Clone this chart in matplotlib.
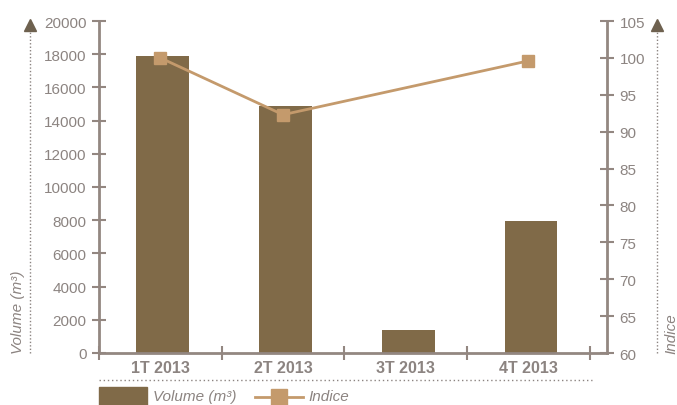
import numpy as np
import matplotlib
matplotlib.use("Agg")
import matplotlib.pyplot as plt
from matplotlib.lines import Line2D

categories = ["1T 2013", "2T 2013", "3T 2013", "4T 2013"]
volume = [17900, 14900, 1400, 7950]
indice = [100, 92.3, np.nan, 99.6]

bar_color = "#806a48"
line_color = "#c49a6c"
axis_color = "#938781"
text_color = "#8c8481"
arrow_color = "#6e614f"

plt.rcParams["font.family"] = ["Liberation Sans", "DejaVu Sans"]

fig = plt.figure(figsize=(6.77, 4.06), dpi=100)
ax = fig.add_axes([99 / 677, 52 / 406, 508 / 677, 332 / 406])
ax2 = ax.twinx()

x = np.arange(len(categories))
ax.bar(x + 0.02, volume, width=0.43, color=bar_color, zorder=2)

mask = ~np.isnan(indice)
ax2.plot(x[mask], np.array(indice)[mask], color=line_color, lw=2,
         marker="s", ms=9, mfc=line_color, mec=line_color, zorder=3)

ax.set_xlim(-0.5, 3.64)
ax.set_ylim(0, 20000)
ax.set_yticks(np.arange(0, 20001, 2000))
ax2.set_ylim(60, 105)
ax2.set_yticks(np.arange(60, 106, 5))

ax.set_xticks(np.arange(-0.5, 3.6, 1))
ax.set_xticklabels([])
ax.set_xticks(x, minor=True)
ax.set_xticklabels(categories, minor=True)
ax.tick_params(axis="x", which="minor", length=0, labelsize=11.5,
               labelcolor=text_color, pad=5)
ax.tick_params(axis="x", which="major", direction="inout", length=10,
               width=1.5, color=axis_color)

for a in (ax, ax2):
    for s in a.spines.values():
        s.set_visible(False)
    a.tick_params(axis="y", direction="inout", length=10, width=1.5,
                  color=axis_color, labelcolor=text_color, labelsize=11, pad=4)

ax.spines["left"].set_visible(True)
ax.spines["bottom"].set_visible(True)
ax2.spines["right"].set_visible(True)
for s in (ax.spines["left"], ax.spines["bottom"], ax2.spines["right"]):
    s.set_color(axis_color)
    s.set_linewidth(2)

for lab in ax.get_xticklabels(minor=True):
    lab.set_fontweight("bold")

# side arrows with dotted shafts
for xa in (30, 657):
    fig.add_artist(Line2D([xa / 677, xa / 677], [52 / 406, 374 / 406],
                          transform=fig.transFigure, color=text_color,
                          lw=1, ls=(0, (1, 1.5))))
    fig.add_artist(Line2D([xa / 677], [380 / 406], transform=fig.transFigure,
                          marker="^", ms=9, color=arrow_color, lw=0))

fig.text(18 / 677, 52 / 406, "Volume (m³)", rotation=90, ha="center",
         va="bottom", style="italic", color=text_color, fontsize=11)
fig.text(671 / 677, 52 / 406, "Indice", rotation=90, ha="center",
         va="bottom", style="italic", color=text_color, fontsize=11)

# legend separator and legend
fig.add_artist(Line2D([99 / 677, 592 / 677], [25 / 406, 25 / 406],
                      transform=fig.transFigure, color=text_color,
                      lw=1, ls=(0, (1, 2))))
fig.add_artist(plt.Rectangle((99 / 677, 0), 48 / 677, 18 / 406,
                             transform=fig.transFigure, color=bar_color))
fig.text(153 / 677, 9 / 406, "Volume (m³)", style="italic",
         color=text_color, fontsize=11, va="center")
fig.add_artist(Line2D([255 / 677, 303 / 677], [8 / 406, 8 / 406],
                      transform=fig.transFigure, color=line_color, lw=2))
fig.add_artist(Line2D([279 / 677], [8 / 406], transform=fig.transFigure,
                      color=line_color, marker="s", ms=11, lw=0))
fig.text(308 / 677, 9 / 406, "Indice", style="italic",
         color=text_color, fontsize=11, va="center")

fig.savefig("out.png", dpi=100)
